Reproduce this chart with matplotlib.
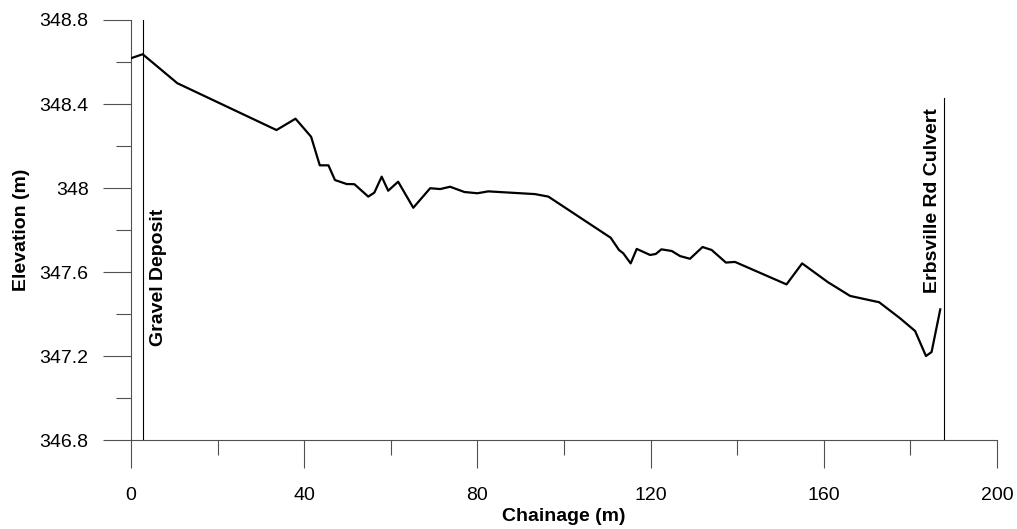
### Stream bed long profile - elevation vs chainage
import matplotlib
matplotlib.use('Agg')
import matplotlib.pyplot as plt
import numpy as np
from matplotlib.ticker import MultipleLocator, FuncFormatter

plt.rcParams['font.family'] = ['Liberation Sans', 'DejaVu Sans']

### Data
chainage = [0.0, 2.7, 10.7, 33.6, 38.0, 41.6, 43.6, 45.6, 47.1, 49.8, 51.6,
            54.8, 56.2, 57.9, 59.4, 61.7, 65.2, 69.1, 71.4, 73.7, 77.0,
            80.0, 82.5, 93.3, 96.4, 110.8, 112.7, 113.7, 115.4, 116.8,
            119.9, 121.2, 122.5, 124.9, 126.8, 129.1, 132.0, 134.1, 137.4,
            139.5, 151.4, 155.0, 161.0, 166.1, 172.8, 177.6, 181.1, 183.6,
            184.9, 186.9]
elevation = [348.618, 348.637, 348.499, 348.276, 348.330, 348.244, 348.108,
             348.108, 348.038, 348.019, 348.018, 347.959, 347.978, 348.054,
             347.987, 348.030, 347.906, 347.999, 347.995, 348.006, 347.981,
             347.975, 347.984, 347.971, 347.959, 347.763, 347.705, 347.689,
             347.641, 347.710, 347.681, 347.686, 347.708, 347.700, 347.676,
             347.663, 347.719, 347.705, 347.645, 347.648, 347.541, 347.641,
             347.551, 347.486, 347.456, 347.380, 347.319, 347.200, 347.219,
             347.422]

markers = ['Gravel Deposit', 'Erbsville Rd Culvert']
marker_x = [2.7, 187.8]
marker_top = [348.8, 348.427]

xmin, xmax = 0, 200
ymin, ymax = 346.8, 348.8

###############################################################################
### Plot
fig = plt.figure(figsize=(10.17, 5.29), dpi=100)
ax = fig.add_axes([0.1288, 0.1682, 0.8515, 0.794])

ax.plot(chainage, elevation, color='k', linewidth=1.6, zorder=3)

for i in range(len(markers)):
    ax.plot([marker_x[i], marker_x[i]], [ymin, marker_top[i]], color='k',
            linewidth=0.8, zorder=2)

ax.text(6.3, 347.25, markers[0], rotation=90, ha='center', va='bottom',
        fontsize=14, fontweight='bold')
ax.text(185.0, 347.50, markers[1], rotation=90, ha='center', va='bottom',
        fontsize=14, fontweight='bold')

ax.set_xlim(xmin, xmax)
ax.set_ylim(ymin, ymax)

ax.spines['top'].set_visible(False)
ax.spines['right'].set_visible(False)
for s in ['left', 'bottom']:
    ax.spines[s].set_color('#505050')
    ax.spines[s].set_linewidth(0.8)

ax.xaxis.set_major_locator(MultipleLocator(40))
ax.xaxis.set_minor_locator(MultipleLocator(20))
ax.yaxis.set_major_locator(MultipleLocator(0.4))
ax.yaxis.set_minor_locator(MultipleLocator(0.2))
ax.yaxis.set_major_formatter(FuncFormatter(lambda v, p: '%g' % round(v, 1)))

ax.tick_params(axis='both', which='major', length=20.5, width=0.8,
               color='#505050', labelsize=14)
ax.tick_params(axis='both', which='minor', length=10.5, width=0.8,
               color='#505050')
ax.tick_params(axis='x', which='major', pad=13.5)
ax.tick_params(axis='y', which='major', pad=10)

ax.set_xlabel('Chainage (m)', fontsize=14, fontweight='bold', labelpad=3)
ax.set_ylabel('Elevation (m)', fontsize=14, fontweight='bold', labelpad=7)

plt.savefig('out.png', dpi=100)
